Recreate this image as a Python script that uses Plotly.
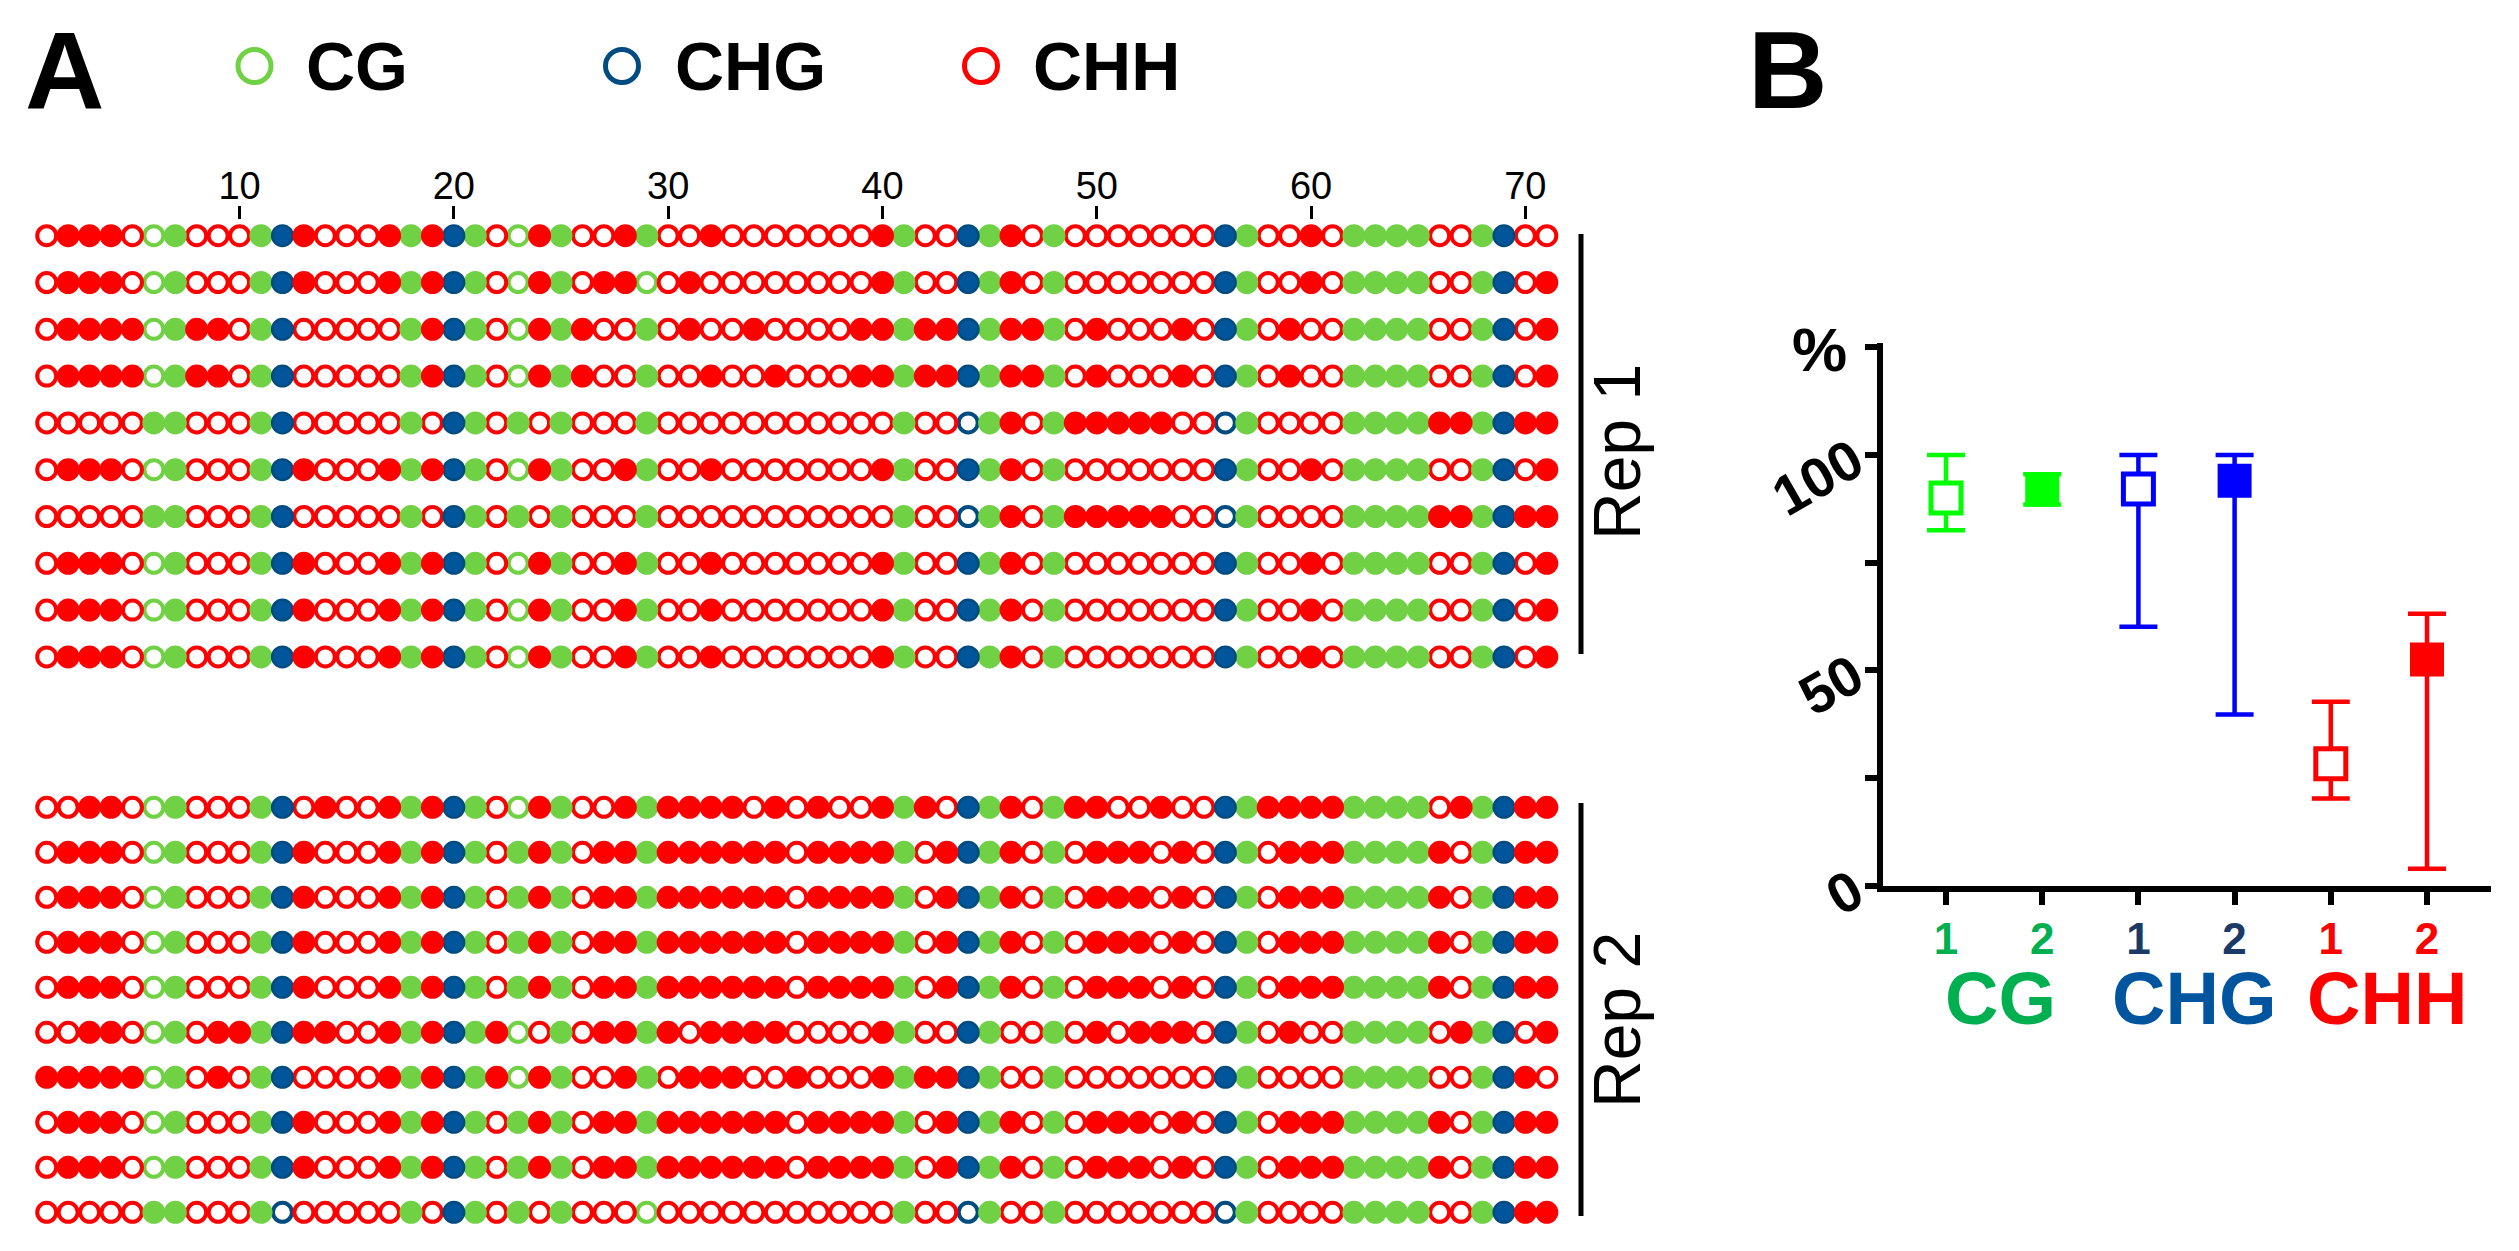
import plotly.graph_objects as go

W, H = 2519, 1251

# ---------------- Panel A data ----------------
site_positions = list(range(1, 72))
# sequence context of each of the 71 cytosines: G = CG, B = CHG, R = CHH
site_context_code = ("RRRRRGGRRR" "GBRRRRRGRB" "GRGRGRRRGR" "RRRRRRRRRR"
                     "GRRBGRRGRR" "RRRRRBGRRR" "RGGGGRRGBRR")
context_names = {"G": "CG", "B": "CHG", "R": "CHH"}

# 1 = methylated (filled), 0 = unmethylated (open), one string per clone
rep1_rows = [
    "0111001000" "1110001111" "1001100110" "0100000001" "1001110100" "0000011001" "01111001100",
    "0111001000" "1110001111" "1001101100" "1000000001" "1001110100" "0000011001" "01111001101",
    "0111101110" "1100000111" "1001110010" "1001000011" "1111111101" "0001011010" "01111001101",
    "0111101110" "1100000111" "1001110010" "0100100011" "1111111101" "0001011010" "01111001101",
    "0000011000" "1100000101" "1010100010" "0000000000" "1000110111" "1110001000" "01111111111",
    "0111001000" "1110001111" "1001100110" "0100000001" "1001110100" "0000011001" "01111001101",
    "0000011000" "1100000101" "1010100010" "0000000000" "1000110111" "1110001000" "01111111111",
    "0111001000" "1110001111" "1001100110" "0100000001" "1001110100" "0000011001" "01111001101",
    "0111001000" "1110001111" "1001100110" "0100000001" "1001110100" "0000011001" "01111001101",
    "0111001000" "1110001111" "1001100110" "0100000001" "1001110100" "0000011001" "01111001101",
]
rep2_rows = [
    "0011001000" "1101001111" "1001100111" "1110101001" "1101110111" "0010011111" "11111011111",
    "0111001000" "1110001111" "1011101111" "1111101111" "1011110101" "1101011011" "11111101111",
    "0111001000" "1110001111" "1011101111" "1111101111" "1011110101" "1101011011" "11111101111",
    "0111001000" "1110001111" "1011101111" "1111101111" "1011110101" "1101011011" "11111101111",
    "0111001000" "1110001111" "1011101111" "1111101111" "1011110101" "1101011011" "11111101111",
    "0011001011" "1111001111" "1100101111" "0111100001" "1001100101" "0111011010" "01111011101",
    "1111101010" "1100001111" "1101100110" "1110010001" "1111100100" "0000011000" "01111001110",
    "0111001000" "1110001111" "1011101111" "1111101111" "1011110101" "1101011011" "11111101111",
    "0111001000" "1110001111" "1011101111" "1111101111" "1011110101" "1101011011" "11111101111",
    "0000011000" "1000000101" "1010100000" "0000000000" "1000100100" "0000001000" "01111001111",
]
top_tick_values = [10, 20, 30, 40, 50, 60, 70]
top_tick_labels = ["10", "20", "30", "40", "50", "60", "70"]
rep_labels = ["Rep 1", "Rep 2"]

# ---------------- Panel B data ----------------
b_positions = [1, 2, 3, 4, 5, 6]
b_tick_labels = ["1", "2", "1", "2", "1", "2"]
b_context = ["CG", "CG", "CHG", "CHG", "CHH", "CHH"]
b_mean = [90.0, 92.0, 92.1, 94.0, 28.3, 52.5]
b_upper = [100.0, 95.5, 100.0, 100.0, 42.7, 63.1]
b_lower = [82.5, 88.5, 60.1, 39.7, 20.2, 3.9]
b_filled = [False, True, False, True, False, True]
group_labels = ["CG", "CHG", "CHH"]
b_y_ticks = [0, 25, 50, 75, 100, 125]
b_y_ticktext = ["0", "", "50", "", "100", ""]

# ---------------- styles ----------------
FONT = "Liberation Sans, Arial, Helvetica, sans-serif"
NARROW = "Liberation Sans Narrow, Arial Narrow, Liberation Sans, Arial, sans-serif"
dot_fill = {"CG": "#6FD143", "CHG": "#00559B", "CHH": "#FF0000"}
dot_ring = {"CG": "#6FD143", "CHG": "#004C80", "CHH": "#FF0000"}
b_color = {"CG": "#00FF00", "CHG": "#0000FF", "CHH": "#FF0000"}
b_tick_color = {"CG": "#00B050", "CHG": "#1B3A66", "CHH": "#FF0000"}
group_color = {"CG": "#00B050", "CHG": "#00559E", "CHH": "#FF0000"}


def fx(px):
    return px / W


def fy(py):
    return 1 - py / H


# geometry of panel A (pixels)
COL1_X, COL_STEP = 46.7, 21.43
A_X0, A_X1 = 20, 1572
R1_Y0, R1_STEP, R1_TOP, R1_BOT = 235.7, 46.8, 219.5, 700
R2_Y0, R2_STEP, R2_TOP, R2_BOT = 807.3, 45.0, 760, 1250


def col_of(px):
    return 1 + (px - COL1_X) / COL_STEP


def row_of(py, y0, step):
    return 1 + (py - y0) / step


# geometry of panel B
B_X0, B_X1 = 1883, 2491
B_P1, B_STEP = 1946, 96.2
B_YBOT, B_YTOP = 885.5, 343
B_YMAX = 126


def bpos(px):
    return 1 + (px - B_P1) / B_STEP


fig = go.Figure()

# ----- Panel A dots -----
for rows, xa, ya in [(rep1_rows, "x", "y"), (rep2_rows, "x2", "y2")]:
    for status in ("0", "1"):
        for code in ("G", "B", "R"):
            ctx = context_names[code]
            xs, ys = [], []
            for i, row in enumerate(rows):
                assert len(row) == len(site_positions)
                for c, (cc, s) in enumerate(zip(site_context_code, row)):
                    if cc == code and s == status:
                        xs.append(site_positions[c])
                        ys.append(i + 1)
            if status == "1":
                if ctx == "CHG":
                    marker = dict(symbol="circle", size=20.5, color=dot_fill[ctx],
                                  line=dict(color=dot_ring[ctx], width=2.5))
                else:
                    marker = dict(symbol="circle", size=23, color=dot_fill[ctx],
                                  line=dict(width=0))
            else:
                marker = dict(symbol="circle", size=19, color="white",
                              line=dict(color=dot_ring[ctx], width=4))
            fig.add_trace(go.Scatter(x=xs, y=ys, mode="markers", xaxis=xa, yaxis=ya,
                                     marker=marker, showlegend=False, cliponaxis=False,
                                     hoverinfo="skip"))

# ----- Panel B points with error bars -----
for k in range(len(b_positions)):
    ctx = b_context[k]
    col = b_color[ctx]
    if b_filled[k]:
        marker = dict(symbol="square", size=34, color=col, line=dict(width=0))
    else:
        marker = dict(symbol="square", size=30, color="white", line=dict(color=col, width=5))
    fig.add_trace(go.Scatter(
        x=[b_positions[k]], y=[b_mean[k]], mode="markers", xaxis="x3", yaxis="y3",
        marker=marker, showlegend=False, cliponaxis=False, hoverinfo="skip",
        error_y=dict(type="data", symmetric=False,
                     array=[b_upper[k] - b_mean[k]],
                     arrayminus=[b_mean[k] - b_lower[k]],
                     color=col, thickness=4.5, width=19)))

b_ticktext = ['<span style="color:%s">%s</span>' % (b_tick_color[c], t)
              for c, t in zip(b_context, b_tick_labels)]

annotations = []
shapes = []

# panel letters
annotations.append(dict(text="A", x=fx(64), y=fy(70), xref="paper", yref="paper",
                        showarrow=False, xanchor="center", yanchor="middle",
                        font=dict(family=FONT, size=110, color="black", weight="bold")))
annotations.append(dict(text="B", x=fx(1787), y=fy(70), xref="paper", yref="paper",
                        showarrow=False, xanchor="center", yanchor="middle",
                        font=dict(family=FONT, size=110, color="black", weight="bold")))

# legend of panel A
legend_items = [("CG", 254.5, 307), ("CHG", 622, 676), ("CHH", 981, 1034)]
for name, cx, tx in legend_items:
    r = 16.5
    shapes.append(dict(type="circle", xref="paper", yref="paper",
                       x0=fx(cx - r), x1=fx(cx + r), y0=fy(66 + r), y1=fy(66 - r),
                       line=dict(color=dot_ring[name], width=5), fillcolor="white"))
    annotations.append(dict(text=name, x=fx(tx - 3), y=fy(66), xref="paper", yref="paper",
                            showarrow=False, xanchor="left", yanchor="middle",
                            font=dict(family=FONT, size=68, color="black", weight="bold")))

# rep brackets and labels
for label, y0, y1, ty in [(rep_labels[0], 234, 654, 452), (rep_labels[1], 803, 1216, 1020)]:
    shapes.append(dict(type="line", xref="paper", yref="paper",
                       x0=fx(1581), x1=fx(1581), y0=fy(y0), y1=fy(y1),
                       line=dict(color="black", width=5)))
    annotations.append(dict(text=label, x=fx(1617), y=fy(ty), xref="paper", yref="paper",
                            showarrow=False, xanchor="center", yanchor="middle", textangle=-90,
                            font=dict(family=NARROW, size=66, color="black")))

# panel B: % and group labels
annotations.append(dict(text="%", x=fx(1819), y=fy(349), xref="paper", yref="paper",
                        showarrow=False, xanchor="center", yanchor="middle",
                        font=dict(family=FONT, size=62, color="black", weight="bold")))
for g, cx in zip(group_labels, [2000, 2194, 2387]):
    annotations.append(dict(text=g, x=fx(cx), y=fy(998), xref="paper", yref="paper",
                            showarrow=False, xanchor="center", yanchor="middle",
                            font=dict(family=FONT, size=74, color=group_color[g], weight="bold")))

fig.update_layout(
    autosize=True, margin=dict(l=0, r=0, t=0, b=0, autoexpand=False),
    paper_bgcolor="white", plot_bgcolor="rgba(0,0,0,0)",
    font=dict(family=FONT, color="black"),
    showlegend=False,
    annotations=annotations, shapes=shapes,
    xaxis=dict(domain=[fx(A_X0), fx(A_X1)], range=[col_of(A_X0), col_of(A_X1)],
               anchor="y", side="top", showline=False, showgrid=False, zeroline=False,
               ticks="outside", ticklen=13, tickwidth=3, tickcolor="black",
               tickvals=top_tick_values, ticktext=top_tick_labels,
               tickfont=dict(family=FONT, size=38, color="black"), ticklabelstandoff=-9),
    yaxis=dict(domain=[fy(R1_BOT), fy(R1_TOP)],
               range=[row_of(R1_BOT, R1_Y0, R1_STEP), row_of(R1_TOP, R1_Y0, R1_STEP)],
               anchor="x", visible=False),
    xaxis2=dict(domain=[fx(A_X0), fx(A_X1)], range=[col_of(A_X0), col_of(A_X1)],
                anchor="y2", visible=False),
    yaxis2=dict(domain=[fy(R2_BOT), fy(R2_TOP)],
                range=[row_of(R2_BOT, R2_Y0, R2_STEP), row_of(R2_TOP, R2_Y0, R2_STEP)],
                anchor="x2", visible=False),
    xaxis3=dict(domain=[fx(B_X0), fx(B_X1)], range=[bpos(B_X0), bpos(B_X1)],
                anchor="y3", showline=True, linewidth=6, linecolor="black",
                showgrid=False, zeroline=False, ticks="outside", ticklen=13, tickwidth=6,
                tickcolor="black", tickvals=b_positions, ticktext=b_ticktext,
                tickfont=dict(family=FONT, size=44, weight="bold"), ticklabelstandoff=-3),
    yaxis3=dict(domain=[fy(B_YBOT), fy(B_YTOP)], range=[0, B_YMAX],
                anchor="x3", showline=True, linewidth=6, linecolor="black",
                showgrid=False, zeroline=False, ticks="outside", ticklen=12, tickwidth=6,
                tickcolor="black", tickvals=b_y_ticks, ticktext=b_y_ticktext,
                tickangle=-30,
                tickfont=dict(family=FONT, size=56, color="black", weight="bold")),
)

fig.write_html("out.html", config={"displayModeBar": False},
               default_width="100vw", default_height="100vh",
               post_script="document.body.style.margin='0';document.body.style.overflow='hidden';")
